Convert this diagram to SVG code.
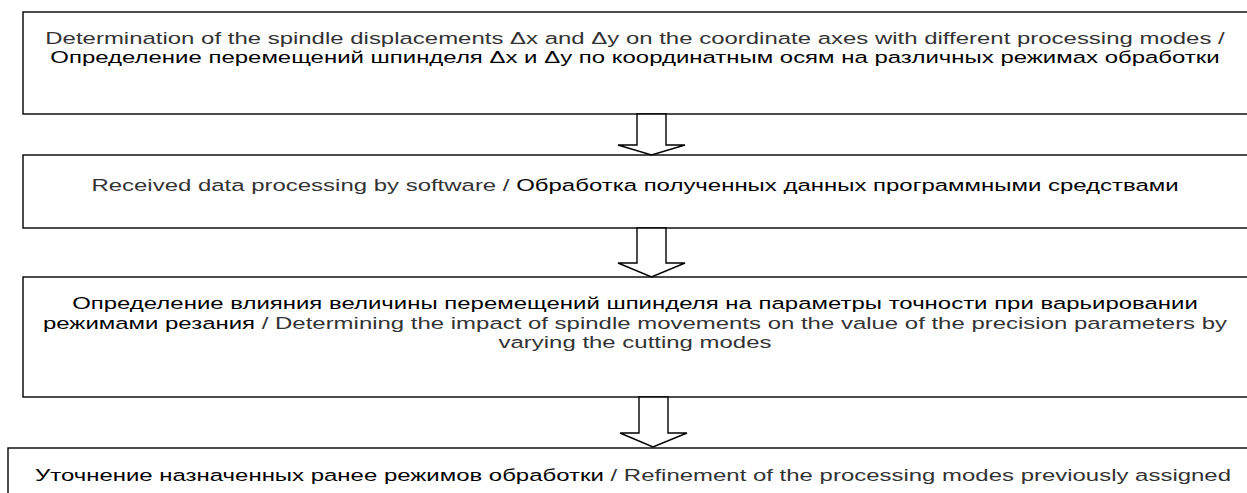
<svg xmlns="http://www.w3.org/2000/svg" width="1247" height="493" viewBox="0 0 1247 493">
<style>
.box{fill:#fff;stroke:#000;stroke-width:1.4}
.arr{fill:#fff;stroke:#000;stroke-width:1.4;stroke-linejoin:miter}
text{font-family:"Liberation Sans",Arial,sans-serif;font-size:17px;text-anchor:middle;fill:#000}
.en{fill:#333}
</style>
<rect width="1247" height="493" fill="#fff"/>
<g id="node1">
<rect class="box" x="23" y="12" width="1240" height="102"/>
<g transform="translate(635,0) scale(1.41,1)">
<text x="0" y="44"><tspan class="en">Determination of the spindle displacements Δx and Δy on the coordinate axes with different processing modes /</tspan></text>
<text x="0" y="63">Определение перемещений шпинделя Δx и Δy по координатным осям на различных режимах обработки</text>
</g>
</g>
<g id="node2">
<rect class="box" x="23" y="155" width="1240" height="73"/>
<g transform="translate(635,0) scale(1.41,1)">
<text x="0" y="191"><tspan class="en">Received data processing by software / </tspan>Обработка полученных данных программными средствами</text>
</g>
</g>
<g id="node3">
<rect class="box" x="23" y="277" width="1240" height="120"/>
<g transform="translate(635,0) scale(1.41,1)">
<text x="0" y="309">Определение влияния величины перемещений шпинделя на параметры точности при варьировании</text>
<text x="0" y="329">режимами резания<tspan class="en"> / Determining the impact of spindle movements on the value of the precision parameters by</tspan></text>
<text x="0" y="348"><tspan class="en">varying the cutting modes</tspan></text>
</g>
</g>
<g id="node4">
<rect class="box" x="8" y="448" width="1260" height="60"/>
<g transform="translate(633,0) scale(1.41,1)">
<text x="0" y="481">Уточнение назначенных ранее режимов обработки<tspan class="en"> / Refinement of the processing modes previously assigned</tspan></text>
</g>
</g>
<g id="connectors">
<polygon class="arr" points="637,114 666,114 666,145 685,145 651.5,155 618,145 637,145"/>
<polygon class="arr" points="637,228 666,228 666,263 685,263 651.5,277 618,263 637,263"/>
<polygon class="arr" points="639,397 668,397 668,433 687,433 653,447 620,433 639,433"/>
</g>
</svg>
